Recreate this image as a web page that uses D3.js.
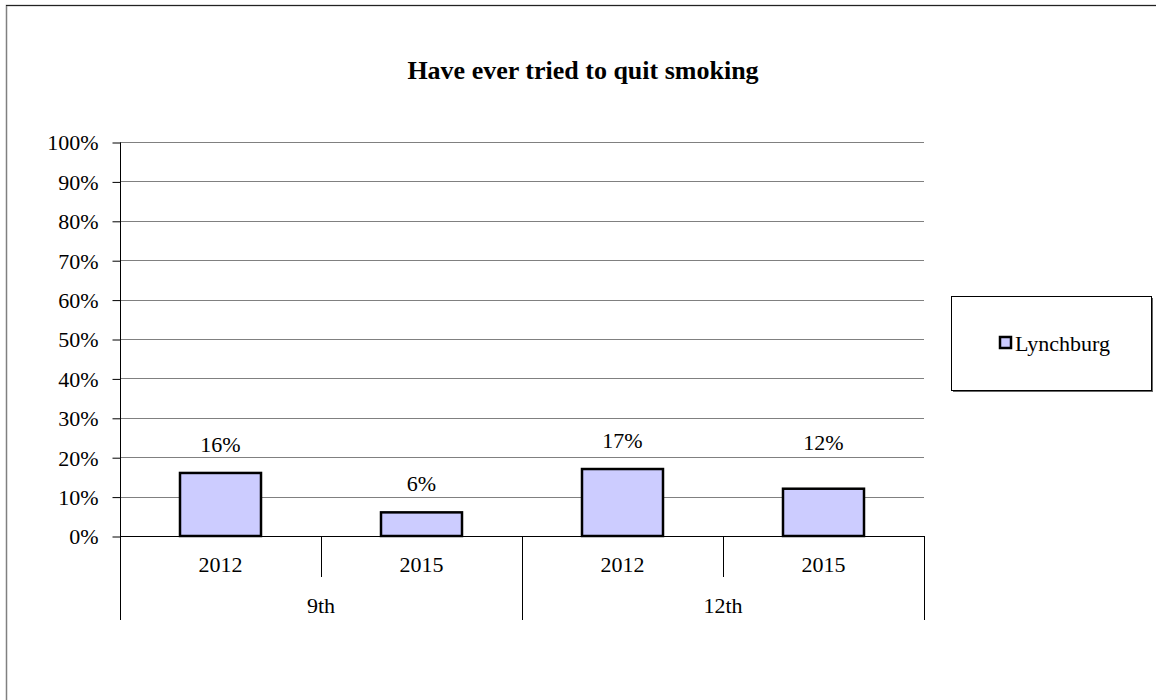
<!DOCTYPE html>
<html>
<head>
<meta charset="utf-8">
<script src="https://cdn.jsdelivr.net/npm/d3@7"></script>
<style>
  html, body { margin: 0; padding: 0; background: #fff; }
  svg { display: block; font-family: "Liberation Serif", "Times New Roman", serif; }
</style>
</head>
<body>
<svg id="chart" width="1156" height="700"></svg>
<script>
// ---- data ----
const title = "Have ever tried to quit smoking";
const groups = ["9th", "12th"];
const years = ["2012", "2015"];
const seriesName = "Lynchburg";
const values = [0.16, 0.06, 0.17, 0.12];   // 9th-2012, 9th-2015, 12th-2012, 12th-2015
const yTicks = [0, 0.1, 0.2, 0.3, 0.4, 0.5, 0.6, 0.7, 0.8, 0.9, 1.0];

// ---- layout ----
const plot = { left: 120, right: 924, top: 142, bottom: 536 };
const labelLift = [0, 0, 0, 18];
const barFill = "#ccccff";

const svg = d3.select("#chart");

// outer frame
svg.append("rect").attr("x", 6.5).attr("y", 5.5).attr("width", 1160).attr("height", 710)
  .attr("fill", "#fff").attr("stroke", "#808080").attr("stroke-width", 1.5);
svg.append("line").attr("x1", 6).attr("x2", 1156).attr("y1", 5.5).attr("y2", 5.5)
  .attr("stroke", "#222").attr("stroke-width", 1.2);

// title
svg.append("text").attr("x", 583).attr("y", 79).attr("text-anchor", "middle")
  .attr("font-size", 26).attr("font-weight", "bold").attr("fill", "#000").text(title);

const cats = [];
groups.forEach(g => years.forEach(yr => cats.push(g + "|" + yr)));

const x = d3.scaleBand().domain(cats).range([plot.left, plot.right]).padding(0);
const xg = d3.scaleBand().domain(groups).range([plot.left, plot.right]).padding(0);
const y = d3.scaleLinear().domain([0, 1]).range([plot.bottom, plot.top]);

// gridlines
svg.append("g").selectAll("line").data(yTicks.filter(t => t > 0)).join("line")
  .attr("x1", plot.left).attr("x2", plot.right)
  .attr("y1", d => Math.round(y(d)) + 0.5).attr("y2", d => Math.round(y(d)) + 0.5)
  .attr("stroke", "#808080").attr("stroke-width", 1);

// y axis
const yAxis = d3.axisLeft(y).tickValues(yTicks).tickFormat(d3.format(".0%")).tickSize(8).tickPadding(14);
const gy = svg.append("g").attr("transform", `translate(${plot.left + 0.5},0.5)`).call(yAxis);
gy.select(".domain").attr("stroke", "#000").attr("d", `M0,${plot.top}V${plot.bottom}`);
gy.selectAll(".tick line").attr("stroke", "#000");
gy.selectAll(".tick text").attr("font-size", 22).attr("font-family", "Liberation Serif").attr("fill", "#000").attr("dy", "0.34em");

// bars
const bw = x.bandwidth() * 0.403;
svg.append("g").selectAll("rect").data(values).join("rect")
  .attr("x", (d, i) => x(cats[i]) + (x.bandwidth() - bw) / 2)
  .attr("y", d => y(d))
  .attr("width", bw)
  .attr("height", d => y(0) - y(d))
  .attr("fill", barFill).attr("stroke", "#000").attr("stroke-width", 2.5);

// x axis baseline
svg.append("line").attr("x1", plot.left).attr("x2", plot.right)
  .attr("y1", plot.bottom + 0.5).attr("y2", plot.bottom + 0.5).attr("stroke", "#000");

// data labels
svg.append("g").selectAll("text").data(values).join("text")
  .attr("x", (d, i) => x(cats[i]) + x.bandwidth() / 2)
  .attr("y", (d, i) => y(d) - 21 - labelLift[i])
  .attr("text-anchor", "middle").attr("font-size", 22).attr("fill", "#000")
  .text(d => d3.format(".0%")(d));

// category separators
const inner = cats.map(c => x(c)).filter((v, i) => i % years.length !== 0);
svg.append("g").selectAll("line").data(inner).join("line")
  .attr("x1", d => Math.round(d) + 0.5).attr("x2", d => Math.round(d) + 0.5)
  .attr("y1", plot.bottom).attr("y2", 577).attr("stroke", "#000");
const outer = groups.map(g => xg(g)).concat([plot.right]);
svg.append("g").selectAll("line").data(outer).join("line")
  .attr("x1", d => Math.round(d) + 0.5).attr("x2", d => Math.round(d) + 0.5)
  .attr("y1", plot.bottom).attr("y2", 620).attr("stroke", "#000");

// year labels
svg.append("g").selectAll("text").data(cats).join("text")
  .attr("x", c => x(c) + x.bandwidth() / 2).attr("y", 572)
  .attr("text-anchor", "middle").attr("font-size", 22).attr("fill", "#000")
  .text(c => c.split("|")[1]);

// group labels
svg.append("g").selectAll("text").data(groups).join("text")
  .attr("x", g => xg(g) + xg.bandwidth() / 2).attr("y", 613)
  .attr("text-anchor", "middle").attr("font-size", 22).attr("fill", "#000")
  .text(g => g);

// legend
const lg = svg.append("g");
lg.append("rect").attr("x", 953).attr("y", 298).attr("width", 200).attr("height", 94).attr("fill", "#666");
lg.append("rect").attr("x", 951.5).attr("y", 296.5).attr("width", 200).attr("height", 94)
  .attr("fill", "#fff").attr("stroke", "#000").attr("stroke-width", 1);
lg.append("rect").attr("x", 1000).attr("y", 337).attr("width", 11).attr("height", 11)
  .attr("fill", barFill).attr("stroke", "#000").attr("stroke-width", 2.5);
lg.append("text").attr("x", 1015).attr("y", 351).attr("font-size", 22).attr("fill", "#000").text(seriesName);
</script>
</body>
</html>
